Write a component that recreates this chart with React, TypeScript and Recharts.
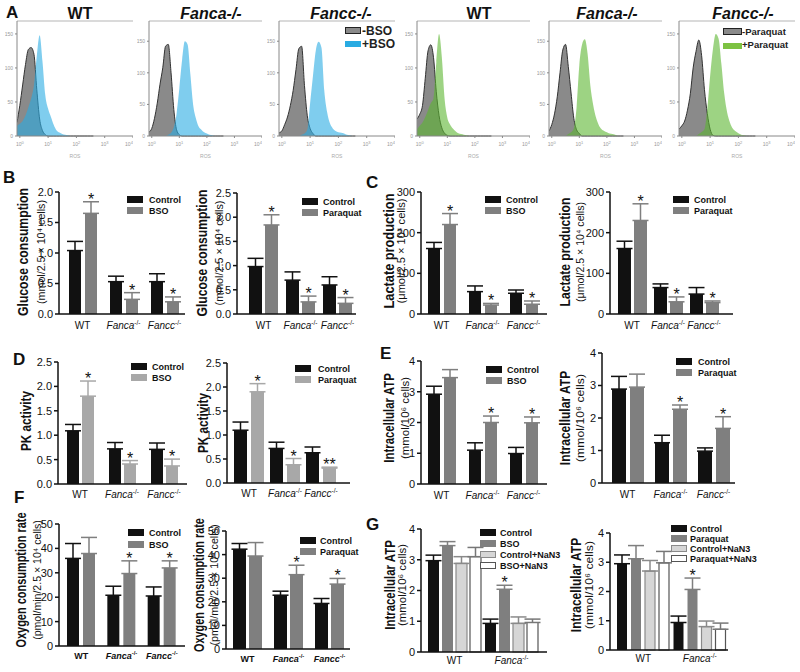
import React from 'react'
import {
	Area,
	AreaChart,
	Bar,
	BarChart,
	ErrorBar,
	LabelList,
	Legend,
	ReferenceLine,
	XAxis,
	YAxis,
} from 'recharts'

const FONT = '"Liberation Sans", Arial, Helvetica, sans-serif'

// ---- A: ROS histograms (x = log10 intensity) ----
const rosLog = [-0.1, 0, 0.1, 0.2, 0.3, 0.4, 0.5, 0.6, 0.7, 0.8, 0.9, 1.0, 1.1, 1.2, 1.3, 1.4, 1.5, 1.6, 1.7, 1.8, 1.9, 2.0, 2.1, 2.2, 2.3, 2.4, 2.5, 2.6]
const rosTicks = [0, 1, 2, 3, 4]
const countTicks = [0, 50, 100, 150]

const wtBsoMinus = [20, 45, 75, 105, 127, 130, 120, 68, 25, 8, 2, 0, 0, 0, 0, 0, 0, 0, 0, 0, 0, 0, 0, 0, 0, 0, 0, 0]
const wtBsoPlus = [15, 18, 22, 30, 42, 55, 75, 118, 148, 110, 60, 40, 28, 16, 8, 5, 3, 2, 1, 0, 0, 0, 0, 0, 0, 0, 0, 0]
const faBsoMinus = [6, 12, 28, 52, 82, 108, 142, 145, 100, 42, 10, 2, 0, 0, 0, 0, 0, 0, 0, 0, 0, 0, 0, 0, 0, 0, 0, 0]
const faBsoPlus = [0, 0, 0, 0, 0, 0, 0, 2, 5, 14, 35, 75, 120, 150, 145, 98, 50, 28, 15, 10, 6, 4, 2, 1, 0, 0, 0, 0]
const fcBsoMinus = [5, 8, 18, 30, 48, 72, 105, 138, 142, 80, 32, 12, 4, 0, 0, 0, 0, 0, 0, 0, 0, 0, 0, 0, 0, 0, 0, 0]
const fcBsoPlus = [0, 0, 0, 0, 0, 0, 0, 0, 2, 4, 10, 52, 95, 135, 149, 140, 72, 38, 20, 12, 8, 6, 5, 4, 2, 1, 0, 0]
const wtPqMinus = [25, 32, 45, 85, 125, 134, 115, 65, 30, 12, 4, 1, 0, 0, 0, 0, 0, 0, 0, 0, 0, 0, 0, 0, 0, 0, 0, 0]
const wtPqPlus = [10, 15, 20, 28, 38, 48, 55, 108, 150, 116, 55, 27, 17, 11, 7, 4, 3, 2, 1, 0, 0, 0, 0, 0, 0, 0, 0, 0]
const faPqMinus = [8, 18, 35, 62, 100, 136, 145, 110, 68, 28, 10, 4, 0, 0, 0, 0, 0, 0, 0, 0, 0, 0, 0, 0, 0, 0, 0, 0]
const faPqPlus = [0, 0, 0, 0, 0, 0, 0, 3, 6, 12, 45, 112, 145, 153, 130, 80, 50, 30, 18, 11, 8, 6, 4, 3, 2, 0, 0, 0]
const fcPqMinus = [10, 15, 22, 38, 62, 100, 124, 141, 118, 68, 33, 10, 1, 0, 0, 0, 0, 0, 0, 0, 0, 0, 0, 0, 0, 0, 0, 0]
const fcPqPlus = [0, 0, 0, 0, 0, 0, 0, 3, 6, 10, 40, 88, 128, 150, 143, 105, 62, 35, 20, 11, 7, 4, 2, 1, 0, 0, 0, 0]

// ---- B-G: bar panels ----
const genotypes = ['WT', 'Fanca', 'Fancc']
const atpGroups = ['WT', 'Fanca']

const glucoseCtrlB = [1.04, 0.53, 0.53]
const glucoseCtrlBErr = [0.15, 0.09, 0.13]
const glucoseBso = [1.65, 0.24, 0.2]
const glucoseBsoErr = [0.19, 0.11, 0.08]
const glucoseCtrlP = [0.98, 0.7, 0.6]
const glucoseCtrlPErr = [0.17, 0.17, 0.17]
const glucosePq = [1.84, 0.25, 0.22]
const glucosePqErr = [0.21, 0.12, 0.12]

const lactateCtrlB = [161, 55, 51]
const lactateCtrlBErr = [15, 14, 8]
const lactateBso = [220, 22, 24]
const lactateBsoErr = [27, 4, 8]
const lactateCtrlP = [161, 65, 49]
const lactateCtrlPErr = [18, 9, 16]
const lactatePq = [230, 30, 28]
const lactatePqErr = [41, 12, 4]

const pkCtrlB = [1.09, 0.72, 0.71]
const pkCtrlBErr = [0.13, 0.13, 0.13]
const pkBso = [1.8, 0.41, 0.37]
const pkBsoErr = [0.31, 0.07, 0.14]
const pkCtrlP = [1.1, 0.72, 0.63]
const pkCtrlPErr = [0.17, 0.13, 0.12]
const pkPq = [1.9, 0.38, 0.31]
const pkPqErr = [0.17, 0.13, 0.02]

const atpCtrlB = [2.92, 1.1, 0.99]
const atpCtrlBErr = [0.26, 0.24, 0.2]
const atpBso = [3.46, 2.0, 1.99]
const atpBsoErr = [0.26, 0.21, 0.19]
const atpCtrlP = [2.89, 1.24, 0.98]
const atpCtrlPErr = [0.39, 0.23, 0.1]
const atpPq = [2.95, 2.27, 1.68]
const atpPqErr = [0.4, 0.13, 0.36]

const ocrCtrlB = [35.9, 20.8, 20.5]
const ocrCtrlBErr = [6.1, 3.7, 3.7]
const ocrBso = [37.9, 29.7, 32]
const ocrBsoErr = [6.6, 5.2, 2.9]
const ocrCtrlP = [42.3, 22.8, 19.3]
const ocrCtrlPErr = [2.4, 1.7, 2.1]
const ocrPq = [39.4, 31.5, 27.5]
const ocrPqErr = [5.7, 4.0, 2.4]

const nanCtrlB = [2.97, 0.93]
const nanCtrlBErr = [0.18, 0.14]
const nanBso = [3.46, 2.04]
const nanBsoErr = [0.13, 0.13]
const nanCtrlAzB = [2.88, 0.93]
const nanCtrlAzBErr = [0.22, 0.21]
const nanBsoAz = [3.1, 0.96]
const nanBsoAzErr = [0.3, 0.11]
const nanCtrlP = [2.95, 0.94]
const nanCtrlPErr = [0.3, 0.22]
const nanPq = [3.12, 2.07]
const nanPqErr = [0.45, 0.39]
const nanCtrlAzP = [2.7, 0.8]
const nanCtrlAzPErr = [0.36, 0.19]
const nanPqAz = [2.98, 0.71]
const nanPqAzErr = [0.39, 0.21]

const starsAll = ['*', '*', '*']
const starsKo = ['', '*', '*']
const starsPkPq = ['*', '*', '**']
const starsFanca = ['', '*']

const BLACK = '#111111'
const GRAY = '#7f7f7f'
const LIGHT = '#a8a8a8'
const BLUE = '#29abe2'
const GREEN = '#5cb531'

let measureCtx: CanvasRenderingContext2D | null = null
const textWidth = (s: string, font: string) => {
	if (!measureCtx) measureCtx = document.createElement('canvas').getContext('2d')
	if (!measureCtx) return s.length * 0.55 * parseFloat(font.split('px')[0].split(' ').pop() || '10')
	measureCtx.font = font
	return measureCtx.measureText(s).width
}

// ---------------- histogram ----------------
const HIST_TOP = 21
const HIST_BOTTOM = 136

const LogTick = ({ x, y, payload }: any) => (
	<text x={x} y={y + 6} textAnchor='middle' fontSize={5} fill='#999' fontFamily={FONT}>
		10<tspan dy={-2} fontSize={4}>{payload.value}</tspan>
	</text>
)

type HistProps = { left: number; right: number; yMax: number; minus: number[]; plus: number[]; color: string }

const RosHistogram = ({ left, right, yMax, minus, plus, color }: HistProps) => {
	const rows = rosLog.map((x, i) => ({ x, minus: minus[i], plus: plus[i] }))
	return (
		<div style={{ position: 'absolute', left: left - 12, top: HIST_TOP - 2 }}>
			<AreaChart
				width={right - left + 12}
				height={HIST_BOTTOM - HIST_TOP + 2 + 26}
				data={rows}
				margin={{ top: 2, right: 0, left: 0, bottom: 0 }}
			>
				<XAxis
					dataKey='x'
					type='number'
					domain={[-0.1, 4]}
					ticks={rosTicks}
					tick={<LogTick />}
					tickSize={2}
					stroke='#888'
					height={26}
					allowDataOverflow
					label={{ value: 'ROS', position: 'insideBottom', offset: 4, fontSize: 5, fill: '#aaa' }}
				/>
				<YAxis
					domain={[0, yMax]}
					ticks={countTicks}
					interval={0}
					tick={{ fontSize: 5, fill: '#999' }}
					tickSize={2}
					stroke='#888'
					width={12}
				/>
				<ReferenceLine y={yMax} stroke='#b5b5b5' />
				<Area
					dataKey='minus'
					type='monotone'
					fill='#8a8a8a'
					fillOpacity={1}
					stroke='#333'
					strokeWidth={1}
					isAnimationActive={false}
				/>
				<Area
					dataKey='plus'
					type='monotone'
					fill={color}
					fillOpacity={0.6}
					stroke='none'
					isAnimationActive={false}
				/>
			</AreaChart>
		</div>
	)
}

// ---------------- bar panels ----------------
type Series = {
	name: string
	fill: string
	stroke?: string
	errColor?: string
	values: number[]
	errs: number[]
	stars?: string[]
}

type PanelProps = {
	groups: string[]
	series: Series[]
	ax: number
	axEnd: number
	yTop: number
	yZero: number
	yMax: number
	yTicks: number[]
	decimals: number
	padL: number
	padR: number
	barSize: number
	barGap: number
	title: string
	titleX: number
	titleLen: number
	sub?: string
	subX?: number
	subLen?: number
	labelY: number
	legendX: number
	legendY: number
	legendRow: number
	legendText: number
	tickDy: number
	tickSize: number
	tickBold?: boolean
}

const TOP_PAD = 25
const X_AXIS_H = 26
const LEGEND_FONT = 'bold 9px "Liberation Sans"'

const GroupTick = ({ x, y, payload, dy, size, bold }: any) => {
	const g = payload.value
	return (
		<text
			x={x}
			y={y + dy}
			textAnchor='middle'
			fontSize={size}
			fontWeight={bold ? 'bold' : 'normal'}
			fontFamily={FONT}
			fill='#111'
		>
			{g === 'WT' ? (
				'WT'
			) : (
				<>
					<tspan fontStyle='italic'>{g}</tspan>
					<tspan fontSize={size * 0.65} dy={-size * 0.45}>
						-/-
					</tspan>
				</>
			)}
		</text>
	)
}

const starLabel = (s: Series) => (p: any) => {
	const vb = p.viewBox ?? p
	const i = p.index ?? s.values.indexOf(p.value)
	const mark = s.stars?.[i]
	if (!mark) return null
	const x = vb.x ?? p.x
	const y = vb.y ?? p.y
	const w = vb.width ?? p.width
	const h = vb.height ?? p.height
	const capY = y - s.errs[i] * (h / s.values[i])
	return (
		<text x={x + w / 2} y={capY + 3} textAnchor='middle' fontSize={16} fontFamily={FONT} fill='#111'>
			{mark}
		</text>
	)
}

const LegendBox = ({ series, row, textOff, width }: { series: Series[]; row: number; textOff: number; width: number }) => (
	<svg width={width} height={row * series.length + 3} style={{ display: 'block' }}>
		{series.map((s, i) => (
			<g key={s.name}>
				<rect
					x={0.5}
					y={i * row + 0.5}
					width={15}
					height={6}
					fill={s.fill}
					stroke={s.stroke ?? s.fill}
					strokeWidth={1}
				/>
				<text x={textOff} y={i * row + 7} fontSize={9} fontWeight='bold' fontFamily={FONT} fill='#111'>
					{s.name}
				</text>
			</g>
		))}
	</svg>
)

// rotated axis title, squeezed along its reading direction to the reference length
const RotatedTitle = ({ x, y, text, len, size, bold }: any) => {
	const natural = textWidth(text, `${bold ? 'bold ' : ''}${size}px "Liberation Sans"`)
	const sx = natural > 0 ? len / natural : 1
	return (
		<text
			transform={`translate(${x} ${y}) rotate(-90) scale(${sx.toFixed(3)} 1)`}
			x={0}
			y={0}
			textAnchor='middle'
			fontSize={size}
			fontWeight={bold ? 'bold' : 'normal'}
			fontFamily={FONT}
			fill='#111'
		>
			{text}
		</text>
	)
}

const BarPanel = (p: PanelProps) => {
	const axisW = Math.round(p.ax - p.titleX + 9)
	const left = p.ax - axisW
	const top = p.yTop - TOP_PAD
	const rows = p.groups.map((g, i) => {
		const r: Record<string, any> = { group: g }
		p.series.forEach((s, j) => {
			r['v' + j] = s.values[i]
			r['e' + j] = [0, s.errs[i]]
		})
		return r
	})
	const legendW = Math.ceil(p.legendText + Math.max(...p.series.map((s) => textWidth(s.name, LEGEND_FONT))) + 2)
	const rightM = Math.max(4, p.legendX + legendW - p.axEnd)
	const cy = p.labelY - top
	const yTitle = () => (
		<g>
			<RotatedTitle x={p.titleX - left + 5.4} y={cy} text={p.title} len={p.titleLen} size={15} bold />
			{p.sub && <RotatedTitle x={(p.subX ?? 0) - left + 4} y={cy} text={p.sub} len={p.subLen} size={11} />}
		</g>
	)
	return (
		<div style={{ position: 'absolute', left, top }}>
			<BarChart
				width={axisW + (p.axEnd - p.ax) + rightM}
				height={TOP_PAD + (p.yZero - p.yTop) + X_AXIS_H}
				data={rows}
				margin={{ top: TOP_PAD, right: rightM, left: 0, bottom: 0 }}
				barSize={p.barSize}
				barGap={p.barGap}
			>
				<XAxis
					dataKey='group'
					padding={{ left: p.padL, right: p.padR }}
					tickLine={false}
					tickSize={0}
					tickMargin={0}
					interval={0}
					height={X_AXIS_H}
					axisLine={{ stroke: '#111', strokeWidth: 1.5 }}
					tick={<GroupTick dy={p.tickDy} size={p.tickSize} bold={p.tickBold} />}
				/>
				<YAxis
					domain={[0, p.yMax]}
					ticks={p.yTicks}
					interval={0}
					width={axisW}
					tickSize={4}
					axisLine={{ stroke: '#111', strokeWidth: 1.5 }}
					tickLine={{ stroke: '#111', strokeWidth: 1.5 }}
					tick={{ fontSize: 11, fill: '#111', fontFamily: FONT }}
					tickFormatter={(v: number) => v.toFixed(p.decimals)}
					label={yTitle}
				/>
				<Legend
					layout='vertical'
					align='center'
					verticalAlign='middle'
					wrapperStyle={{
						left: p.legendX - left,
						top: p.legendY - top,
						width: legendW,
						height: p.legendRow * p.series.length + 3,
					}}
					content={() => (
						<LegendBox series={p.series} row={p.legendRow} textOff={p.legendText} width={legendW} />
					)}
				/>
				{p.series.map((s, j) => (
					<Bar
						key={s.name}
						dataKey={'v' + j}
						name={s.name}
						fill={s.fill}
						stroke={s.stroke ?? 'none'}
						strokeWidth={s.stroke ? 1.2 : 0}
						isAnimationActive={false}
					>
						<ErrorBar
							dataKey={'e' + j}
							width={8}
							stroke={s.errColor ?? s.fill}
							strokeWidth={1.5}
							direction='y'
						/>
						{s.stars && <LabelList dataKey={'v' + j} content={starLabel(s)} />}
					</Bar>
				))}
			</BarChart>
		</div>
	)
}

const GLUCOSE_SUB = '(mmol/2.5 × 10⁴ cells)'
const LACTATE_SUB = '(μmol/2.5 × 10⁴ cells)'
const ATP_SUB = '(mmol/10⁶ cells)'
const OCR_SUB = '(pmol/min/2.5 × 10⁴ cells)'

const Overlay = () => (
	<svg
		width={800}
		height={672}
		style={{ position: 'absolute', left: 0, top: 0, pointerEvents: 'none' }}
		fontFamily={FONT}
	>
		<g fontSize={17} fontWeight='bold' fill='#111'>
			<text x={6} y={18}>A</text>
			<text x={3} y={183}>B</text>
			<text x={366} y={188}>C</text>
			<text x={13} y={365}>D</text>
			<text x={380} y={359}>E</text>
			<text x={14} y={503}>F</text>
			<text x={366} y={530}>G</text>
		</g>
		<g fontSize={16} fontWeight='bold' fill='#111' textAnchor='middle'>
			<text x={80} y={19}>WT</text>
			<text x={211} y={19} fontStyle='italic'>Fanca-/-</text>
			<text x={341} y={19} fontStyle='italic'>Fancc-/-</text>
			<text x={479} y={19}>WT</text>
			<text x={607} y={19} fontStyle='italic'>Fanca-/-</text>
			<text x={743} y={19} fontStyle='italic'>Fancc-/-</text>
		</g>
		<g fontWeight='bold' fill='#222'>
			<rect x={345.5} y={27.5} width={15} height={6} fill='#8a8a8a' stroke='#222' />
			<text x={362} y={35} fontSize={12}>-BSO</text>
			<rect x={345} y={41} width={16} height={6} fill={BLUE} />
			<text x={362} y={48} fontSize={12}>+BSO</text>
			<rect x={723.5} y={28.5} width={18} height={6} fill='#8a8a8a' stroke='#222' />
			<text x={742} y={35} fontSize={9.5}>-Paraquat</text>
			<rect x={723} y={43} width={19} height={6} fill='#7dc242' />
			<text x={742} y={48} fontSize={9.5}>+Paraquat</text>
		</g>
	</svg>
)

export default function App() {
	return (
		<div
			style={{
				position: 'absolute',
				left: 0,
				top: 0,
				width: 800,
				height: 672,
				background: '#fff',
				fontFamily: FONT,
				overflow: 'hidden',
			}}
		>
			<RosHistogram left={17} right={133} yMax={169} minus={wtBsoMinus} plus={wtBsoPlus} color={BLUE} />
			<RosHistogram left={149} right={262} yMax={182} minus={faBsoMinus} plus={faBsoPlus} color={BLUE} />
			<RosHistogram left={279} right={395} yMax={182} minus={fcBsoMinus} plus={fcBsoPlus} color={BLUE} />
			<RosHistogram left={417} right={530} yMax={169} minus={wtPqMinus} plus={wtPqPlus} color={GREEN} />
			<RosHistogram left={549} right={662} yMax={182} minus={faPqMinus} plus={faPqPlus} color={GREEN} />
			<RosHistogram left={679} right={795} yMax={169} minus={fcPqMinus} plus={fcPqPlus} color={GREEN} />

			{/* B */}
			<BarPanel
				groups={genotypes}
				series={[
					{ name: 'Control', fill: BLACK, values: glucoseCtrlB, errs: glucoseCtrlBErr },
					{ name: 'BSO', fill: GRAY, values: glucoseBso, errs: glucoseBsoErr, stars: starsAll },
				]}
				ax={59} axEnd={185} yTop={192} yZero={314} yMax={2} yTicks={[0, 0.5, 1, 1.5, 2]} decimals={1}
				padL={3} padR={0} barSize={12} barGap={4}
				title='Glucose consumption' titleX={22.5} titleLen={128} sub={GLUCOSE_SUB} subX={41} subLen={104} labelY={252}
				legendX={127} legendY={196} legendRow={11} legendText={22}
				tickDy={15} tickSize={10}
			/>
			<BarPanel
				groups={genotypes}
				series={[
					{ name: 'Control', fill: BLACK, values: glucoseCtrlP, errs: glucoseCtrlPErr },
					{ name: 'Paraquat', fill: GRAY, values: glucosePq, errs: glucosePqErr, stars: starsAll },
				]}
				ax={237} axEnd={356} yTop={193} yZero={314} yMax={2.5} yTicks={[0, 0.5, 1, 1.5, 2, 2.5]} decimals={1}
				padL={8} padR={0} barSize={13} barGap={3}
				title='Glucose consumption' titleX={202} titleLen={127} sub={GLUCOSE_SUB} subX={219} subLen={105} labelY={253}
				legendX={302} legendY={198} legendRow={11} legendText={21}
				tickDy={15} tickSize={10}
			/>

			{/* C */}
			<BarPanel
				groups={genotypes}
				series={[
					{ name: 'Control', fill: BLACK, values: lactateCtrlB, errs: lactateCtrlBErr },
					{ name: 'BSO', fill: GRAY, values: lactateBso, errs: lactateBsoErr, stars: starsAll },
				]}
				ax={421} axEnd={547} yTop={192} yZero={314} yMax={300} yTicks={[0, 100, 200, 300]} decimals={0}
				padL={0} padR={3} barSize={12} barGap={4}
				title='Lactate production' titleX={389} titleLen={115} sub={LACTATE_SUB} subX={401} subLen={105} labelY={251}
				legendX={485} legendY={196} legendRow={11} legendText={21}
				tickDy={15} tickSize={10}
			/>
			<BarPanel
				groups={genotypes}
				series={[
					{ name: 'Control', fill: BLACK, values: lactateCtrlP, errs: lactateCtrlPErr },
					{ name: 'Paraquat', fill: GRAY, values: lactatePq, errs: lactatePqErr, stars: starsAll },
				]}
				ax={610} axEnd={733} yTop={192} yZero={314} yMax={300} yTicks={[0, 100, 200, 300]} decimals={0}
				padL={4} padR={11} barSize={13} barGap={3}
				title='Lactate production' titleX={565} titleLen={109} sub={LACTATE_SUB} subX={580} subLen={100} labelY={252}
				legendX={673} legendY={196} legendRow={11} legendText={21}
				tickDy={15} tickSize={10}
			/>

			{/* D */}
			<BarPanel
				groups={genotypes}
				series={[
					{ name: 'Control', fill: BLACK, values: pkCtrlB, errs: pkCtrlBErr },
					{ name: 'BSO', fill: LIGHT, values: pkBso, errs: pkBsoErr, stars: starsAll },
				]}
				ax={58} axEnd={187} yTop={362} yZero={484} yMax={2.5} yTicks={[0, 0.5, 1, 1.5, 2, 2.5]} decimals={1}
				padL={1} padR={2} barSize={12} barGap={3}
				title='PK activity' titleX={26} titleLen={60} labelY={421}
				legendX={131} legendY={363} legendRow={11} legendText={21}
				tickDy={14} tickSize={10}
			/>
			<BarPanel
				groups={genotypes}
				series={[
					{ name: 'Control', fill: BLACK, values: pkCtrlP, errs: pkCtrlPErr },
					{ name: 'Paraquat', fill: LIGHT, values: pkPq, errs: pkPqErr, stars: starsPkPq },
				]}
				ax={227} axEnd={350} yTop={363} yZero={483} yMax={2.5} yTicks={[0, 0.5, 1, 1.5, 2, 2.5]} decimals={1}
				padL={4} padR={11} barSize={13} barGap={4}
				title='PK activity' titleX={203} titleLen={60} labelY={423}
				legendX={295} legendY={365} legendRow={11} legendText={23}
				tickDy={14} tickSize={10}
			/>

			{/* E */}
			<BarPanel
				groups={genotypes}
				series={[
					{ name: 'Control', fill: BLACK, values: atpCtrlB, errs: atpCtrlBErr },
					{ name: 'BSO', fill: GRAY, values: atpBso, errs: atpBsoErr, stars: starsKo },
				]}
				ax={421} axEnd={547} yTop={361} yZero={484} yMax={4} yTicks={[0, 1, 2, 3, 4]} decimals={0}
				padL={0} padR={3} barSize={12} barGap={4}
				title='Intracellular ATP' titleX={389} titleLen={90} sub={ATP_SUB} subX={405} subLen={82} labelY={418}
				legendX={486} legendY={366} legendRow={11} legendText={21}
				tickDy={15} tickSize={10}
			/>
			<BarPanel
				groups={genotypes}
				series={[
					{ name: 'Control', fill: BLACK, values: atpCtrlP, errs: atpCtrlPErr },
					{ name: 'Paraquat', fill: GRAY, values: atpPq, errs: atpPqErr, stars: starsKo },
				]}
				ax={602} axEnd={735} yTop={353} yZero={483} yMax={4} yTicks={[0, 1, 2, 3, 4]} decimals={0}
				padL={4} padR={0} barSize={14} barGap={4}
				title='Intracellular ATP' titleX={565} titleLen={95} sub={ATP_SUB} subX={580} subLen={88} labelY={418}
				legendX={676} legendY={358} legendRow={11} legendText={22}
				tickDy={15} tickSize={10}
			/>

			{/* F */}
			<BarPanel
				groups={genotypes}
				series={[
					{ name: 'Control', fill: BLACK, values: ocrCtrlB, errs: ocrCtrlBErr },
					{ name: 'BSO', fill: GRAY, values: ocrBso, errs: ocrBsoErr, stars: starsKo },
				]}
				ax={59} axEnd={185} yTop={524} yZero={646} yMax={50} yTicks={[0, 10, 20, 30, 40, 50]} decimals={0}
				padL={2} padR={3} barSize={12} barGap={4}
				title='Oxygen consumption rate' titleX={21} titleLen={135} sub={OCR_SUB} subX={37} subLen={120} labelY={580}
				legendX={128} legendY={529} legendRow={12} legendText={21}
				tickDy={13} tickSize={9} tickBold
			/>
			<BarPanel
				groups={genotypes}
				series={[
					{ name: 'Control', fill: BLACK, values: ocrCtrlP, errs: ocrCtrlPErr },
					{ name: 'Paraquat', fill: GRAY, values: ocrPq, errs: ocrPqErr, stars: starsKo },
				]}
				ax={226} axEnd={350} yTop={531} yZero={649} yMax={50} yTicks={[0, 10, 20, 30, 40, 50]} decimals={0}
				padL={1} padR={0} barSize={13} barGap={3}
				title='Oxygen consumption rate' titleX={199} titleLen={134} sub={OCR_SUB} subX={214} subLen={121} labelY={585}
				legendX={300} legendY={537} legendRow={11} legendText={20}
				tickDy={13} tickSize={9} tickBold
			/>

			{/* G */}
			<BarPanel
				groups={atpGroups}
				series={[
					{ name: 'Control', fill: BLACK, values: nanCtrlB, errs: nanCtrlBErr },
					{ name: 'BSO', fill: GRAY, values: nanBso, errs: nanBsoErr, stars: starsFanca },
					{ name: 'Control+NaN3', fill: '#d6d6d6', stroke: '#8a8a8a', errColor: '#8a8a8a', values: nanCtrlAzB, errs: nanCtrlAzBErr },
					{ name: 'BSO+NaN3', fill: '#ffffff', stroke: '#555', errColor: '#777', values: nanBsoAz, errs: nanBsoAzErr },
				]}
				ax={421} axEnd={547} yTop={529} yZero={652} yMax={4} yTicks={[0, 1, 2, 3, 4]} decimals={0}
				padL={5} padR={7} barSize={11} barGap={3}
				title='Intracellular ATP' titleX={390} titleLen={90} sub={ATP_SUB} subX={402} subLen={82} labelY={585}
				legendX={480} legendY={529} legendRow={11} legendText={20}
				tickDy={12} tickSize={10}
			/>
			<BarPanel
				groups={atpGroups}
				series={[
					{ name: 'Control', fill: BLACK, values: nanCtrlP, errs: nanCtrlPErr },
					{ name: 'Paraquat', fill: GRAY, values: nanPq, errs: nanPqErr, stars: starsFanca },
					{ name: 'Control+NaN3', fill: '#d6d6d6', stroke: '#8a8a8a', errColor: '#8a8a8a', values: nanCtrlAzP, errs: nanCtrlAzPErr },
					{ name: 'Paraquat+NaN3', fill: '#ffffff', stroke: '#555', errColor: '#777', values: nanPqAz, errs: nanPqAzErr },
				]}
				ax={610} axEnd={728} yTop={533} yZero={650} yMax={4} yTicks={[0, 1, 2, 3, 4]} decimals={0}
				padL={5} padR={0} barSize={10} barGap={4}
				title='Intracellular ATP' titleX={576} titleLen={95} sub={ATP_SUB} subX={589} subLen={88} labelY={585}
				legendX={671} legendY={525} legendRow={10} legendText={19}
				tickDy={12} tickSize={10}
			/>

			<Overlay />
		</div>
	)
}
